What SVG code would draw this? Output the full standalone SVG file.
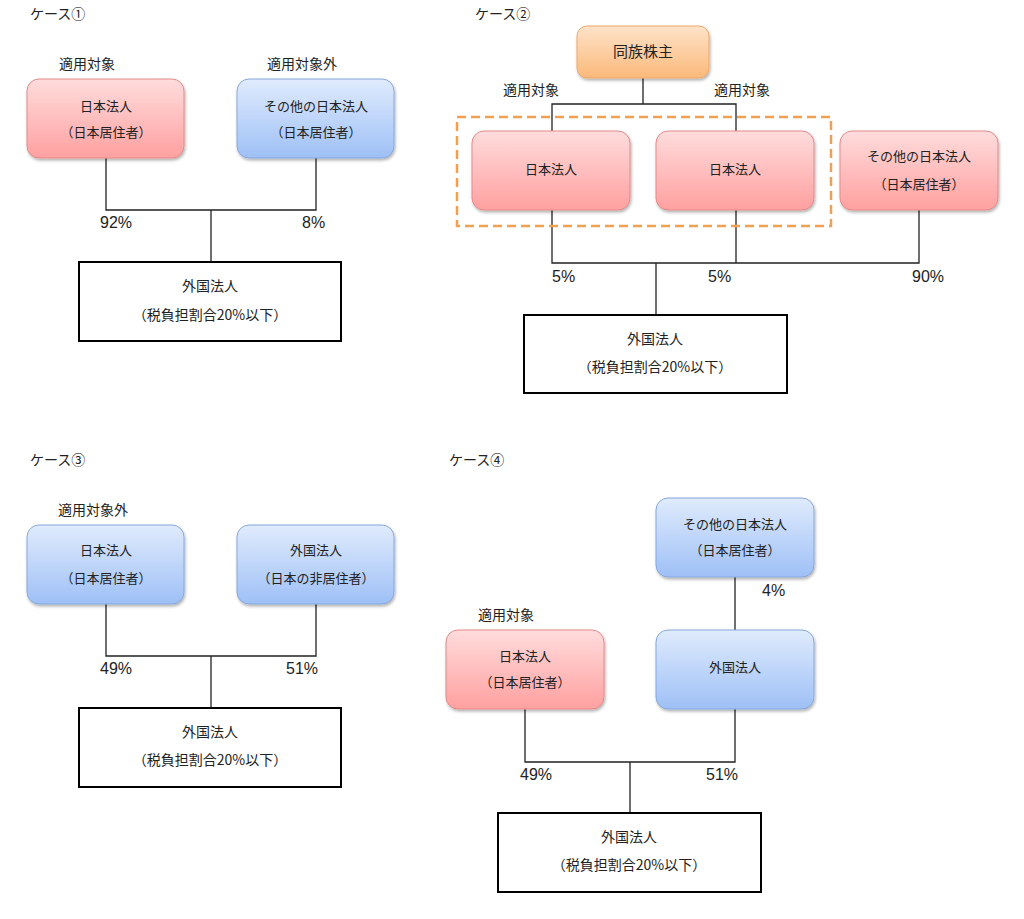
<svg xmlns="http://www.w3.org/2000/svg" width="1024" height="919" viewBox="0 0 1024 919">
<defs>
<linearGradient id="gRed" x1="0" y1="0" x2="0" y2="1"><stop offset="0" stop-color="#ffdcdc"/><stop offset="1" stop-color="#ffa0a0"/></linearGradient>
<linearGradient id="gBlue" x1="0" y1="0" x2="0" y2="1"><stop offset="0" stop-color="#e0ebfd"/><stop offset="1" stop-color="#9ec0f6"/></linearGradient>
<linearGradient id="gOrange" x1="0" y1="0" x2="0" y2="1"><stop offset="0" stop-color="#fee3c9"/><stop offset="1" stop-color="#fbb97a"/></linearGradient>
<filter id="sh" x="-10%" y="-10%" width="130%" height="130%"><feDropShadow dx="1" dy="2" stdDeviation="1.5" flood-color="#000" flood-opacity="0.3"/></filter>
</defs>
<style>
text{font-family:"Noto Sans CJK JP","Liberation Sans",sans-serif;fill:#222;}
.t{font-size:13px;text-anchor:middle;}
.lb{font-size:14px;text-anchor:middle;}
.h{font-size:14px;}
.p{font-size:16px;font-family:"Liberation Sans","Noto Sans CJK JP",sans-serif;}
.red{fill:url(#gRed);stroke:#e48a8a;stroke-width:1;filter:url(#sh);}
.blue{fill:url(#gBlue);stroke:#86a8dc;stroke-width:1;filter:url(#sh);}
.orange{fill:url(#gOrange);stroke:#eda86a;stroke-width:1;filter:url(#sh);}
.blk{fill:#fff;stroke:#000;stroke-width:2;}
.ln{fill:none;stroke:#222;stroke-width:1.3;}
.dash{fill:none;stroke:#f0a050;stroke-width:2.5;stroke-dasharray:9,5;}
</style>
<rect width="1024" height="919" fill="#fff"/>

<g id="connectors">
<path class="ln" d="M106,158V210H316V158M211,210V262"/>
<path class="ln" d="M643,78V104M552,131V104H736V131"/>
<path class="ln" d="M552,210V263H919V210M736,210V263M656,263V315"/>
<path class="ln" d="M106,604V656H316V604M211,656V708"/>
<path class="ln" d="M735,577V630"/>
<path class="ln" d="M525,709V762H735V709M630,762V813"/>
</g>

<g id="case1">
<text class="h" x="30" y="19">ケース①</text>
<text class="lb" x="87" y="69">適用対象</text>
<text class="lb" x="302" y="69">適用対象外</text>
<text class="p" x="100" y="228">92%</text>
<text class="p" x="302" y="228">8%</text>
</g>
<g id="c1-jp"><rect class="red" x="27" y="79" width="157" height="79" rx="12"/><text class="t" x="106" y="111">日本法人</text><text class="t" x="106" y="137">（日本居住者）</text></g>
<g id="c1-other"><rect class="blue" x="237" y="79" width="157" height="79" rx="12"/><text class="t" x="316" y="111">その他の日本法人</text><text class="t" x="316" y="137">（日本居住者）</text></g>
<g id="c1-foreign"><rect class="blk" x="79" y="262" width="262" height="79"/><text class="lb" x="210" y="291">外国法人</text><text class="lb" x="210" y="320">（税負担割合20%以下）</text></g>

<g id="case2">
<text class="h" x="475" y="19">ケース②</text>
<text class="lb" x="531" y="95">適用対象</text>
<text class="lb" x="742" y="95">適用対象</text>
<rect class="dash" x="457" y="117" width="374" height="109"/>
<text class="p" x="552" y="282">5%</text>
<text class="p" x="708" y="282">5%</text>
<text class="p" x="912" y="282">90%</text>
</g>
<g id="c2-holder"><rect class="orange" x="577" y="26" width="132" height="52" rx="10"/><text class="lb" x="643" y="57" style="font-size:15px">同族株主</text></g>
<g id="c2-jp1"><rect class="red" x="472" y="131" width="158" height="79" rx="12"/><text class="t" x="551" y="174">日本法人</text></g>
<g id="c2-jp2"><rect class="red" x="656" y="131" width="158" height="79" rx="12"/><text class="t" x="735" y="174">日本法人</text></g>
<g id="c2-other"><rect class="red" x="840" y="131" width="158" height="79" rx="12"/><text class="t" x="919" y="161">その他の日本法人</text><text class="t" x="919" y="189">（日本居住者）</text></g>
<g id="c2-foreign"><rect class="blk" x="524" y="315" width="263" height="78"/><text class="lb" x="655" y="344">外国法人</text><text class="lb" x="655" y="372">（税負担割合20%以下）</text></g>

<g id="case3">
<text class="h" x="30" y="465">ケース③</text>
<text class="lb" x="93" y="515">適用対象外</text>
<text class="p" x="100" y="674">49%</text>
<text class="p" x="286" y="674">51%</text>
</g>
<g id="c3-jp"><rect class="blue" x="27" y="525" width="157" height="79" rx="12"/><text class="t" x="106" y="555">日本法人</text><text class="t" x="106" y="583">（日本居住者）</text></g>
<g id="c3-fo"><rect class="blue" x="237" y="525" width="157" height="79" rx="12"/><text class="t" x="316" y="555">外国法人</text><text class="t" x="316" y="583">（日本の非居住者）</text></g>
<g id="c3-foreign"><rect class="blk" x="79" y="708" width="262" height="79"/><text class="lb" x="210" y="737">外国法人</text><text class="lb" x="210" y="765">（税負担割合20%以下）</text></g>

<g id="case4">
<text class="h" x="449" y="465">ケース④</text>
<text class="lb" x="506" y="620">適用対象</text>
<text class="p" x="762" y="596">4%</text>
<text class="p" x="520" y="780">49%</text>
<text class="p" x="706" y="780">51%</text>
</g>
<g id="c4-other"><rect class="blue" x="656" y="498" width="158" height="79" rx="12"/><text class="t" x="735" y="529">その他の日本法人</text><text class="t" x="735" y="555">（日本居住者）</text></g>
<g id="c4-jp"><rect class="red" x="446" y="630" width="158" height="79" rx="12"/><text class="t" x="525" y="661">日本法人</text><text class="t" x="525" y="687">（日本居住者）</text></g>
<g id="c4-fo"><rect class="blue" x="656" y="630" width="158" height="79" rx="12"/><text class="t" x="735" y="672">外国法人</text></g>
<g id="c4-foreign"><rect class="blk" x="498" y="813" width="263" height="79"/><text class="lb" x="629" y="842">外国法人</text><text class="lb" x="629" y="870">（税負担割合20%以下）</text></g>
</svg>
